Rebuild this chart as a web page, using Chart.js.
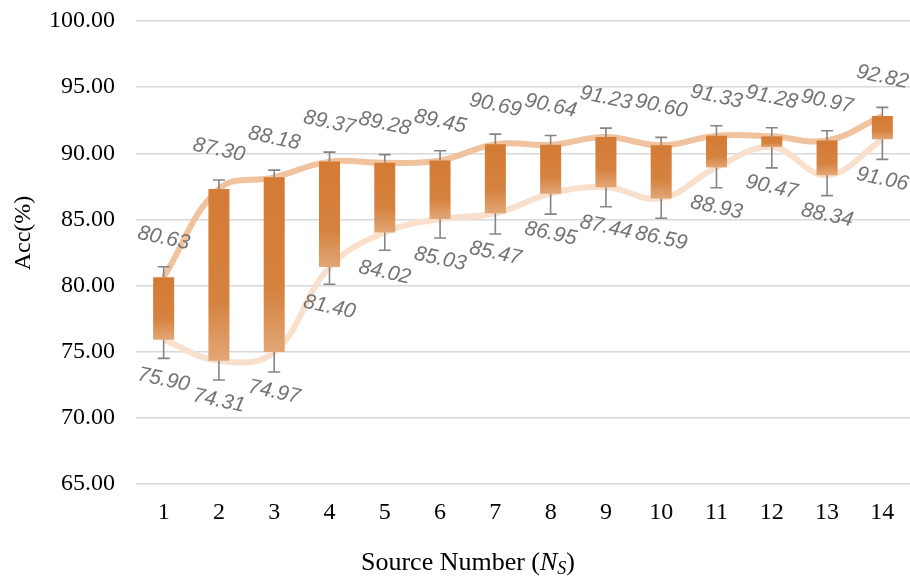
<!DOCTYPE html>
<html>
<head>
<meta charset="utf-8">
<script src="https://cdn.jsdelivr.net/npm/chart.js@4.4.1/dist/chart.umd.min.js"></script>
<style>
  html, body { margin: 0; padding: 0; background: #fff; }
  #wrap { width: 910px; height: 581px; }
</style>
</head>
<body>
<div id="wrap"><canvas id="chart" width="910" height="581"></canvas></div>
<script>
// source numbers and accuracy ranges
const sources = ['1','2','3','4','5','6','7','8','9','10','11','12','13','14'];
const highAcc = [80.63, 87.30, 88.18, 89.37, 89.28, 89.45, 90.69, 90.64, 91.23, 90.60, 91.33, 91.28, 90.97, 92.82];
const lowAcc  = [75.90, 74.31, 74.97, 81.40, 84.02, 85.03, 85.47, 86.95, 87.44, 86.59, 88.93, 90.47, 88.34, 91.06];
// error bar lengths (above high, below low)
const errUp   = [0.79, 0.68, 0.55, 0.72, 0.62, 0.74, 0.76, 0.71, 0.67, 0.60, 0.75, 0.65, 0.73, 0.65];
const errDown = [1.40, 1.45, 1.50, 1.30, 1.35, 1.43, 1.57, 1.55, 1.48, 1.50, 1.53, 1.57, 1.54, 1.52];

const serif = "'Liberation Serif', 'Times New Roman', serif";

function barFill(ctx) {
  const chart = ctx.chart;
  const y = chart.scales.y;
  const i = ctx.dataIndex;
  if (!y || i === undefined) return '#d57e3a';
  const top = y.getPixelForValue(highAcc[i]);
  const bot = y.getPixelForValue(lowAcc[i]);
  if (!isFinite(top) || !isFinite(bot) || top === bot) return '#d57e3a';
  const g = chart.ctx.createLinearGradient(0, top, 0, bot);
  g.addColorStop(0, '#d47b35');
  g.addColorStop(0.65, '#d6823f');
  g.addColorStop(1, '#e2a675');
  return g;
}

// whiskers, value labels and axis titles
const extras = {
  id: 'extras',
  afterDatasetsDraw(chart) {
    const { ctx, scales: { x, y } } = chart;
    ctx.save();
    ctx.strokeStyle = '#858585';
    ctx.lineWidth = 1.6;
    sources.forEach((s, i) => {
      const cx = x.getPixelForValue(i);
      const yh = y.getPixelForValue(highAcc[i]);
      const yt = y.getPixelForValue(highAcc[i] + errUp[i]);
      const yl = y.getPixelForValue(lowAcc[i]);
      const yb = y.getPixelForValue(lowAcc[i] - errDown[i]);
      ctx.beginPath();
      ctx.moveTo(cx, yh); ctx.lineTo(cx, yt);
      ctx.moveTo(cx - 6, yt); ctx.lineTo(cx + 6, yt);
      ctx.moveTo(cx, yl); ctx.lineTo(cx, yb);
      ctx.moveTo(cx - 6, yb); ctx.lineTo(cx + 6, yb);
      ctx.stroke();
    });

    ctx.fillStyle = '#737373';
    ctx.font = "italic 21px 'Liberation Sans', Arial, sans-serif";
    ctx.textAlign = 'center';
    ctx.textBaseline = 'middle';
    const rot = 12 * Math.PI / 180;
    sources.forEach((s, i) => {
      const cx = x.getPixelForValue(i);
      [[highAcc[i], -39], [lowAcc[i], 40]].forEach(([v, off]) => {
        ctx.save();
        ctx.translate(cx, y.getPixelForValue(v) + off);
        ctx.rotate(rot);
        ctx.fillText(v.toFixed(2), 0, 0);
        ctx.restore();
      });
    });

    // y axis title
    ctx.fillStyle = '#000';
    ctx.font = '24px ' + serif;
    ctx.save();
    ctx.translate(24, 233);
    ctx.rotate(-Math.PI / 2);
    ctx.fillText('Acc(%)', 0, 0);
    ctx.restore();

    // x axis title with italic subscript
    const parts = [
      ['Source Number (', '26px ' + serif, 0],
      ['N', 'italic 26px ' + serif, 0],
      ['S', 'italic 18px ' + serif, 6],
      [')', '26px ' + serif, 0]
    ];
    let total = 0;
    parts.forEach(p => { ctx.font = p[1]; total += ctx.measureText(p[0]).width; });
    let px = 468 - total / 2;
    ctx.textAlign = 'left';
    parts.forEach(p => {
      ctx.font = p[1];
      ctx.fillText(p[0], px, 563 + p[2]);
      px += ctx.measureText(p[0]).width;
    });
    ctx.restore();
  }
};

new Chart(document.getElementById('chart'), {
  data: {
    labels: sources,
    datasets: [
      {
        type: 'bar',
        label: 'Range',
        data: sources.map((s, i) => [lowAcc[i], highAcc[i]]),
        backgroundColor: barFill,
        borderWidth: 0,
        barPercentage: 0.76,
        categoryPercentage: 0.5,
        order: 1
      },
      {
        type: 'line',
        label: 'High',
        data: highAcc,
        borderColor: '#f0c29e',
        borderWidth: 6,
        pointRadius: 0,
        tension: 0.4,
        order: 2
      },
      {
        type: 'line',
        label: 'Low',
        data: lowAcc,
        borderColor: '#f9e0cc',
        borderWidth: 6,
        pointRadius: 0,
        tension: 0.4,
        order: 3
      }
    ]
  },
  options: {
    responsive: false,
    animation: false,
    layout: { padding: { top: 21, right: 0, left: 0, bottom: 0 } },
    plugins: { legend: { display: false }, tooltip: { enabled: false } },
    scales: {
      x: {
        type: 'category',
        offset: true,
        grid: { display: false, drawTicks: false },
        border: { display: false },
        ticks: { color: '#000', font: { family: serif, size: 24 }, padding: 14, maxRotation: 0 },
        afterFit(scale) { scale.height = 97; scale.paddingLeft = 0; scale.paddingRight = 0; }
      },
      y: {
        min: 65, max: 100,
        grid: { color: '#d9d9d9', lineWidth: 1.5, drawTicks: false },
        border: { display: false },
        ticks: { stepSize: 5, color: '#000', font: { family: serif, size: 24 }, padding: 21,
                 callback: v => Number(v).toFixed(2) },
        afterFit(scale) { scale.width = 136; scale.paddingTop = 0; scale.paddingBottom = 0; }
      }
    }
  },
  plugins: [extras]
});
</script>
</body>
</html>
